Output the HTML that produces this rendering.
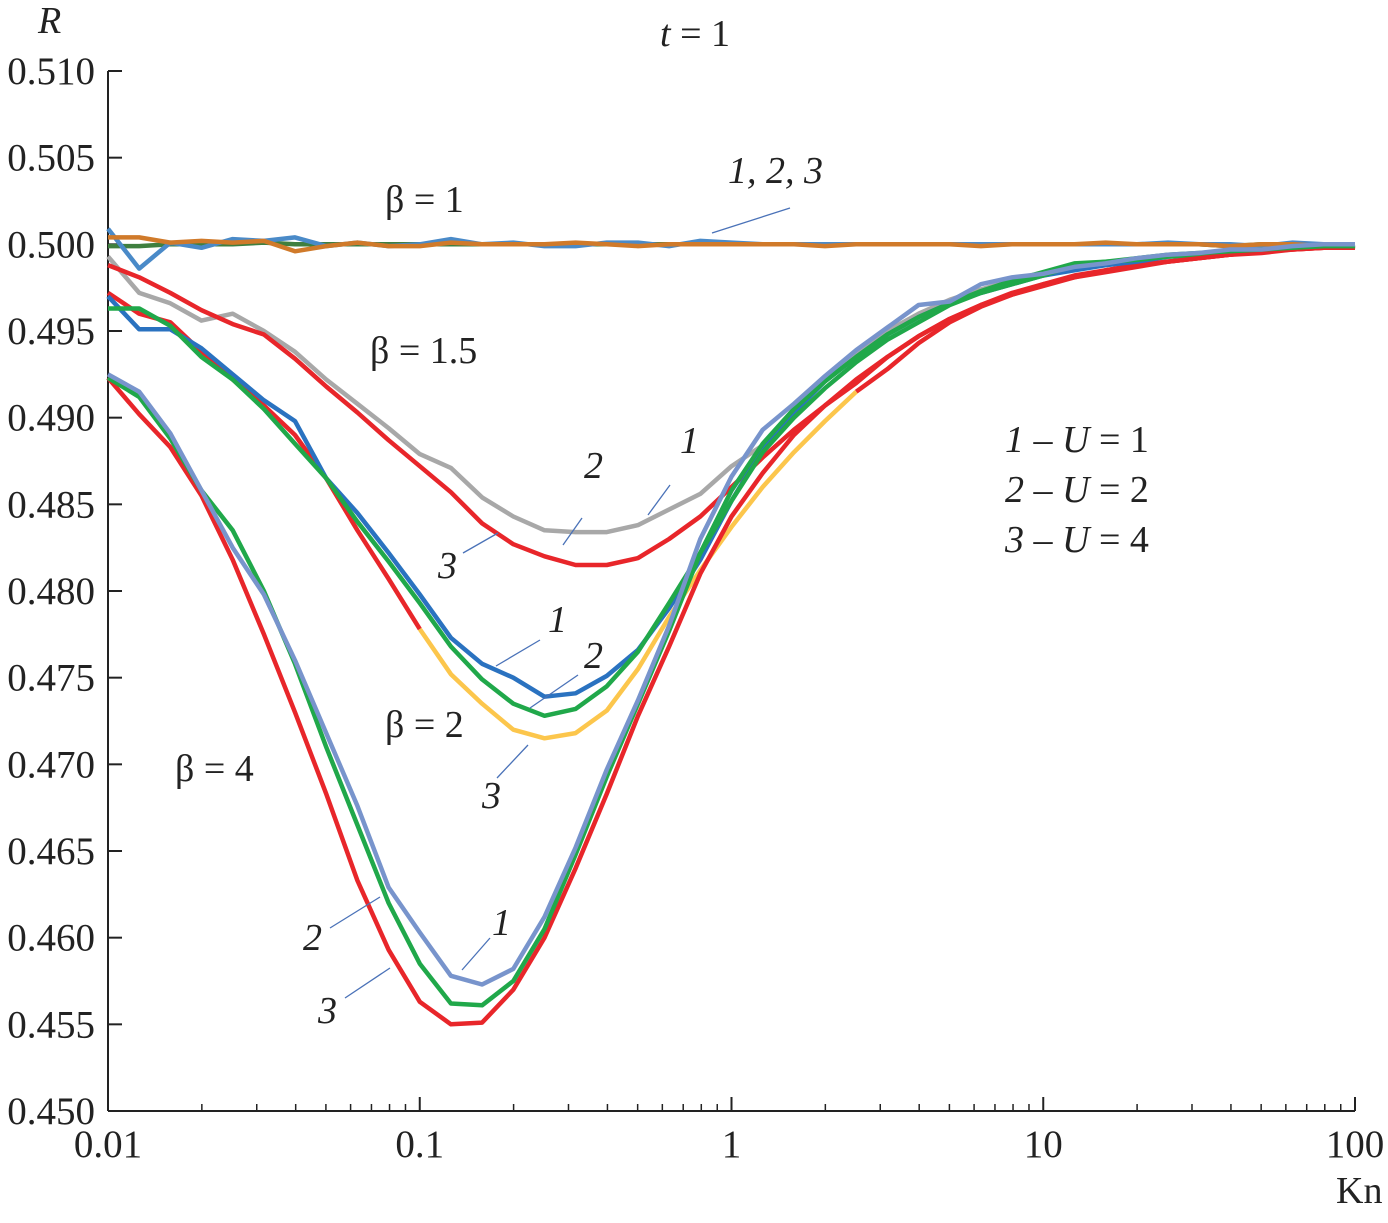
<!DOCTYPE html>
<html><head><meta charset="utf-8"><style>
body{margin:0;background:#fff}
svg text{font-family:"Liberation Serif",serif;fill:#222}
</style></head><body>
<svg id="chart" width="1388" height="1218" xmlns="http://www.w3.org/2000/svg">
<g id="axes"></g>
<g id="series"></g>
<g id="labels" font-size="38">
<text x="38" y="33" font-style="italic">R</text>
<text x="1336" y="1203">Kn</text>
<text x="660" y="46"><tspan font-style="italic">t</tspan> = 1</text>
<text x="385" y="212">β = 1</text>
<text x="370" y="363">β = 1.5</text>
<text x="385" y="737">β = 2</text>
<text x="175" y="781">β = 4</text>
<text x="728" y="183" font-style="italic">1, 2, 3</text>
<text x="1005" y="452"><tspan font-style="italic">1</tspan> – <tspan font-style="italic">U</tspan> = 1</text>
<text x="1005" y="502"><tspan font-style="italic">2</tspan> – <tspan font-style="italic">U</tspan> = 2</text>
<text x="1005" y="552"><tspan font-style="italic">3</tspan> – <tspan font-style="italic">U</tspan> = 4</text>
<g font-style="italic">
<text x="680" y="453">1</text><text x="584" y="478">2</text><text x="438" y="578">3</text>
<text x="548" y="632">1</text><text x="584" y="668">2</text><text x="482" y="808">3</text>
<text x="492" y="935">1</text><text x="303" y="950">2</text><text x="318" y="1023">3</text>
</g>
<g stroke="#4a72b8" stroke-width="1.3">
<line x1="712" y1="233" x2="790" y2="208"/>
<line x1="648" y1="515" x2="670" y2="485"/><line x1="563" y1="545" x2="582" y2="518"/><line x1="463" y1="553" x2="498" y2="533"/>
<line x1="496" y1="666" x2="540" y2="640"/><line x1="530" y1="708" x2="578" y2="675"/><line x1="497" y1="778" x2="528" y2="745"/>
<line x1="462" y1="970" x2="490" y2="938"/><line x1="330" y1="928" x2="380" y2="897"/><line x1="345" y1="998" x2="390" y2="968"/>
</g>
</g>
</svg>
<script>
const yTicks=[0.450,0.455,0.460,0.465,0.470,0.475,0.480,0.485,0.490,0.495,0.500,0.505,0.510];
const xTicks=[0.01,0.1,1,10,100];
const xTickLabels=["0.01","0.1","1","10","100"];
const b1_1=[0.5009,0.4986,0.5001,0.4998,0.5003,0.5002,0.5004,0.4999,0.5001,0.4999,0.5000,0.5003,0.5000,0.5001,0.4999,0.4999,0.5001,0.5001,0.4999,0.5002,0.5001,0.5000,0.5000,0.5000,0.5000,0.5000,0.5000,0.5000,0.5000,0.5000,0.5000,0.5000,0.5000,0.5000,0.5001,0.5000,0.5000,0.4999,0.5001,0.5000,0.5000];
const b1_2=[0.4999,0.4999,0.5000,0.5000,0.5000,0.5001,0.5000,0.5000,0.5000,0.5000,0.5000,0.5000,0.5000,0.5000,0.5000,0.5000,0.5000,0.5000,0.5000,0.5000,0.5000,0.5000,0.5000,0.5000,0.5000,0.5000,0.5000,0.5000,0.5000,0.5000,0.5000,0.5000,0.5000,0.5000,0.5000,0.5000,0.4999,0.5000,0.5000,0.5000,0.4998];
const b1_3=[0.5004,0.5004,0.5001,0.5002,0.5001,0.5002,0.4996,0.4999,0.5001,0.4999,0.4999,0.5001,0.5000,0.5000,0.5000,0.5001,0.5000,0.4999,0.5000,0.5000,0.5000,0.5000,0.5000,0.4999,0.5000,0.5000,0.5000,0.5000,0.4999,0.5000,0.5000,0.5000,0.5001,0.5000,0.5000,0.5000,0.4999,0.5000,0.5000,0.4999,0.4999];
const b15_1=[0.4993,0.4972,0.4966,0.4956,0.4960,0.4950,0.4938,0.4922,0.4908,0.4894,0.4879,0.4871,0.4854,0.4843,0.4835,0.4834,0.4834,0.4838,0.4847,0.4856,0.4872,0.4884,0.4905,0.4922,0.4937,0.4950,0.4960,0.4968,0.4974,0.4979,0.4982,0.4986,0.4988,0.4990,0.4992,0.4994,0.4995,0.4997,0.4998,0.4998,0.4999];
const b15_3=[0.4988,0.4981,0.4972,0.4962,0.4954,0.4948,0.4934,0.4918,0.4903,0.4887,0.4872,0.4857,0.4839,0.4827,0.4820,0.4815,0.4815,0.4819,0.4830,0.4843,0.4860,0.4877,0.4893,0.4907,0.4920,0.4935,0.4947,0.4957,0.4965,0.4972,0.4977,0.4982,0.4985,0.4988,0.4990,0.4992,0.4994,0.4996,0.4997,0.4998,0.4998];
const b2_1=[0.4970,0.4951,0.4951,0.4940,0.4925,0.4910,0.4898,0.4865,0.4845,0.4822,0.4798,0.4773,0.4758,0.4750,0.4739,0.4741,0.4751,0.4766,0.4790,0.4818,0.4852,0.4882,0.4903,0.4921,0.4935,0.4948,0.4958,0.4966,0.4972,0.4977,0.4982,0.4985,0.4988,0.4990,0.4993,0.4994,0.4996,0.4997,0.4998,0.4999,0.4999];
const b2_2=[0.4963,0.4963,0.4953,0.4935,0.4922,0.4905,0.4885,0.4865,0.4840,0.4817,0.4793,0.4768,0.4749,0.4735,0.4728,0.4732,0.4745,0.4765,0.4793,0.4822,0.4852,0.4880,0.4900,0.4917,0.4932,0.4945,0.4955,0.4965,0.4972,0.4977,0.4982,0.4988,0.4990,0.4991,0.4993,0.4994,0.4996,0.4997,0.4998,0.4998,0.4999];
const b2_3=[0.4972,0.4960,0.4955,0.4938,0.4922,0.4907,0.4890,0.4865,0.4835,0.4807,0.4778,0.4752,0.4735,0.4720,0.4715,0.4718,0.4731,0.4755,0.4785,0.4812,0.4837,0.4860,0.4880,0.4898,0.4915,0.4928,0.4943,0.4955,0.4964,0.4971,0.4977,0.4981,0.4985,0.4988,0.4990,0.4992,0.4994,0.4996,0.4997,0.4998,0.4999];
const b4_1=[0.4925,0.4915,0.4891,0.4858,0.4825,0.4798,0.4760,0.4718,0.4676,0.4629,0.4603,0.4578,0.4573,0.4582,0.4612,0.4652,0.4697,0.4737,0.4780,0.4830,0.4866,0.4893,0.4908,0.4924,0.4939,0.4952,0.4965,0.4967,0.4977,0.4981,0.4983,0.4987,0.4989,0.4992,0.4994,0.4995,0.4997,0.4997,0.4999,0.5000,0.5000];
const b4_2=[0.4923,0.4912,0.4888,0.4858,0.4835,0.4800,0.4758,0.4710,0.4665,0.4620,0.4585,0.4562,0.4561,0.4575,0.4605,0.4648,0.4693,0.4735,0.4777,0.4822,0.4858,0.4885,0.4905,0.4921,0.4935,0.4948,0.4958,0.4966,0.4973,0.4979,0.4984,0.4989,0.4990,0.4992,0.4994,0.4995,0.4996,0.4997,0.4998,0.4999,0.4999];
const b4_3=[0.4923,0.4902,0.4883,0.4855,0.4818,0.4775,0.4730,0.4683,0.4633,0.4593,0.4563,0.4550,0.4551,0.4570,0.4600,0.4640,0.4683,0.4728,0.4768,0.4810,0.4843,0.4868,0.4890,0.4907,0.4922,0.4935,0.4947,0.4957,0.4965,0.4971,0.4976,0.4981,0.4984,0.4987,0.4990,0.4992,0.4994,0.4995,0.4997,0.4998,0.4998];
const NS="http://www.w3.org/2000/svg";
const X0=108,X1=1355,Y0=1111,Y1=71;
const xs=i=>X0+(X1-X0)*(i/10)/4;
const xv=v=>X0+(X1-X0)*(Math.log10(v)+2)/4;
const yv=v=>Y0-(Y0-Y1)*(v-0.450)/0.060;
const ax=document.getElementById('axes');
function mk(t,a,p){const e=document.createElementNS(NS,t);for(const k in a)e.setAttribute(k,a[k]);p.appendChild(e);return e;}
let l=mk('line',{x1:X0,y1:Y1,x2:X0,y2:Y0,stroke:'#222','stroke-width':2},ax);


l=mk('line',{x1:X0,y1:Y0,x2:X1,y2:Y0,stroke:'#222','stroke-width':2},ax);


yTicks.forEach(v=>{const y=yv(v);mk('line',{x1:X0,y1:y,x2:X0+14,y2:y,stroke:'#222','stroke-width':2},ax);
const t=mk('text',{x:95,y:y+13,'text-anchor':'end','font-size':39},ax);t.textContent=v.toFixed(3);

});
xTicks.forEach((v,k)=>{const x=xv(v);mk('line',{x1:x,y1:Y0,x2:x,y2:Y0-14,stroke:'#222','stroke-width':2},ax);
for(let m=2;m<10&&k<4;m++){const xm=xv(v*m);mk('line',{x1:xm,y1:Y0,x2:xm,y2:Y0-7,stroke:'#222','stroke-width':1.5},ax);}
const t=mk('text',{x:x,y:1157,'text-anchor':'middle','font-size':39},ax);t.textContent=xTickLabels[k];

});
const sg=document.getElementById('series');
function draw(arr,col,name,from,to){from=from||0;to=to===undefined?arr.length-1:to;let d='';
for(let i=from;i<=to;i++){d+=(i===from?'M':'L')+xs(i).toFixed(1)+','+yv(arr[i]).toFixed(1);}
const p=mk('path',{d:d,fill:'none',stroke:col,'stroke-width':4.5,'stroke-linejoin':'round'},sg);

}
draw(b1_2,'#3f7f3f','series-beta1-u2');draw(b1_1,'#4a8ac8','series-beta1-u1');draw(b1_3,'#d07a2a','series-beta1-u4');
draw(b15_1,'#a8a8a8','series-beta1_5-u1');draw(b15_3,'#e8262a','series-beta1_5-u4');
draw(b2_3,'#e8262a','series-beta2-u4-a',0,10);draw(b2_3,'#e8262a','series-beta2-u4-c',24,40);
draw(b2_1,'#2a72c0','series-beta2-u1');draw(b2_2,'#20a84a','series-beta2-u2');
draw(b2_3,'#fcc64c','series-beta2-u4-b',10,24);
draw(b4_3,'#e8262a','series-beta4-u4');draw(b4_2,'#20a84a','series-beta4-u2');draw(b4_1,'#7894cc','series-beta4-u1');
</script>
</body></html>
